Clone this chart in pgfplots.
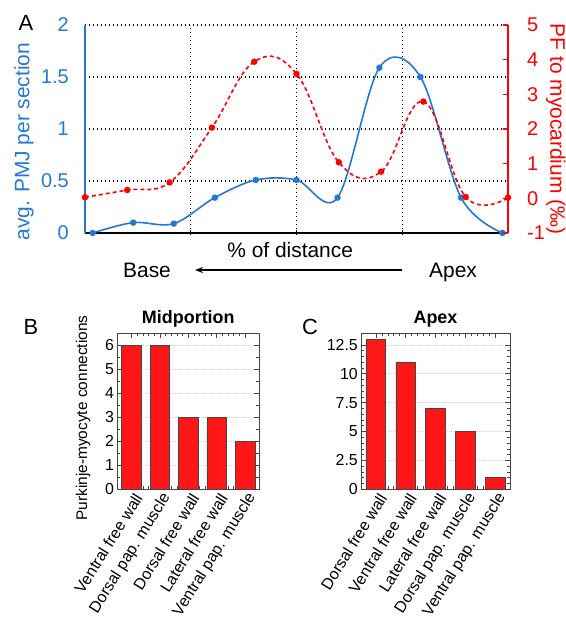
\documentclass[border=0pt]{standalone}
\usepackage{fontspec}
\setmainfont{Liberation Sans}
\usepackage{pgfplots}
\pgfplotsset{compat=1.18}
\usetikzlibrary{arrows.meta}
\definecolor{PMJblue}{RGB}{36,120,212}
\definecolor{PFred}{RGB}{255,0,0}
\definecolor{BarRed}{RGB}{255,22,22}
\definecolor{BarEdge}{RGB}{70,70,70}

\newcommand{\fA}{\fontsize{20}{24}\selectfont}
\newcommand{\fB}{\fontsize{16}{19}\selectfont}

\pgfplotsset{
  barpanel/.style={
    scale only axis, anchor=south west,
    ybar, bar width=19.5bp,
    xmin=-0.5, xmax=4.5, ymin=0,
    xtick={0,...,4}, minor x tick num=4,
    tick align=inside, major tick length=5bp, minor tick length=3bp,
    tick style={BarEdge, line width=0.6bp},
    axis line style={BarEdge, line width=0.8bp},
    ymajorgrids, major grid style={gray!35, line width=0.6bp, dash pattern=on 1bp off 1bp},
    ticklabel style={font=\fB},
    yticklabel style={inner sep=1bp, xshift=-2bp},
    xticklabel style={rotate=58, anchor=east, inner sep=1bp, yshift=-9bp},
    title style={font=\fontsize{18}{21}\selectfont\bfseries, at={(0.5,1)}, anchor=base, yshift=4bp},
    /pgf/number format/assume math mode=true,
  },
  barstyle/.style={fill=BarRed, draw=BarEdge, line width=0.6bp},
}

\begin{document}
\begin{tikzpicture}
\path[use as bounding box] (0,0) rectangle (566bp,618bp);

% ---- panel A: PMJ per section (left axis)
\begin{axis}[at={(85bp,385bp)}, anchor=south west, scale only axis,
  width=423bp, height=208bp, clip=false,
  xmin=0, xmax=100, ymin=0, ymax=2,
  xtick={25,50,75}, xticklabels={}, ytick={0,0.5,1,1.5,2},
  axis x line*=bottom, axis y line*=left,
  x axis line style={black, line width=1.6bp, -},
  y axis line style={PMJblue, line width=2.6bp, -},
  grid=major, major grid style={black, line width=1.2bp, dash pattern=on 1.4bp off 2.6bp},
  xtick style={black, line width=1bp}, xtick align=center, major tick length=5bp,
  ytick style={draw=none},
  yticklabel style={PMJblue, font=\fA, inner sep=0pt, xshift=-16bp},
  /pgf/number format/assume math mode=true,
  ylabel={avg. PMJ per section},
  ylabel style={PMJblue, font=\fontsize{21}{25}\selectfont, at={(rel axis cs:-0.144,0.44)}, anchor=center},
]
\addplot[PMJblue, line width=1.6bp, smooth, tension=0.56, mark=*, mark size=2.4bp] coordinates {
  (1.8,0.0) (11.4,0.1) (21.0,0.09) (30.7,0.34) (40.4,0.51) (50.0,0.51)
  (59.7,0.34) (69.6,1.59) (79.3,1.5) (88.9,0.34) (98.7,0.0)};
\node[font=\fontsize{21}{25}\selectfont, anchor=base] at (rel axis cs:0.485,-0.12) {\% of distance};
\node[font=\fontsize{21}{25}\selectfont, anchor=base] at (rel axis cs:0.1466,-0.216) {Base};
\node[font=\fontsize{21}{25}\selectfont, anchor=base] at (rel axis cs:0.87,-0.216) {Apex};
\draw[-{Stealth[length=8bp,width=6bp]}, line width=1.2bp] (rel axis cs:0.749,-0.178) -- (rel axis cs:0.26,-0.178);
\end{axis}

% ---- panel A: PF to myocardium (right axis)
\begin{axis}[at={(85bp,385bp)}, anchor=south west, scale only axis,
  width=423bp, height=208bp, clip=false,
  xmin=0, xmax=100, ymin=-1, ymax=5,
  axis x line=none, axis y line*=right,
  y axis line style={PFred, line width=2.2bp, -},
  ytick={-1,0,...,5},
  ytick style={PFred, line width=1.2bp}, ytick align=inside, major tick length=5bp,
  yticklabel style={PFred, font=\fA, anchor=west, inner sep=0pt, xshift=19bp},
  /pgf/number format/assume math mode=true,
  ylabel={PF to myocardium (‰)},
  ylabel style={PFred, font=\fontsize{21}{25}\selectfont, at={(rel axis cs:1.113,0.5)}, anchor=center, rotate=180},
]
\addplot[PFred, line width=1.6bp, dash pattern=on 4bp off 3bp, smooth, tension=0.68,
  mark=*, mark size=2.4bp, mark options={solid}] coordinates {
  (0,0.03) (10,0.24) (20,0.46) (30,2.04) (40,3.94) (50,3.59)
  (60,1.04) (70,0.77) (80,2.79) (90,0.04) (100,0.02)};
\end{axis}

% ---- panel B: midportion
\begin{axis}[barpanel, at={(117.3bp,128.7bp)}, width=142bp, height=156bp,
  ymax=6.5, ytick={0,...,6}, minor y tick num=1,
  title={Midportion},
  xticklabels={Ventral free wall, Dorsal pap. muscle, Dorsal free wall, Lateral free wall, Ventral pap. muscle},
  ylabel={Purkinje-myocyte connections},
  ylabel style={font=\fontsize{15.5}{18}\selectfont, at={(rel axis cs:-0.24,0.457)}, anchor=center},
]
\addplot[barstyle] coordinates {(0,6) (1,6) (2,3) (3,3) (4,2)};
\end{axis}

% ---- panel C: apex
\begin{axis}[barpanel, at={(361bp,128.7bp)}, width=149bp, height=156bp,
  ymax=13.5, ytick={0,2.5,...,12.5}, minor y tick num=4,
  title={Apex},
  xticklabels={Dorsal free wall, Ventral free wall, Lateral free wall, Dorsal pap. muscle, Ventral pap. muscle},
]
\addplot[barstyle] coordinates {(0,13) (1,11) (2,7) (3,5) (4,1)};
\end{axis}

\node[font=\fontsize{22}{26}\selectfont, anchor=base] at (26bp,587bp) {A};
\node[font=\fontsize{22}{26}\selectfont, anchor=base] at (31bp,283bp) {B};
\node[font=\fontsize{22}{26}\selectfont, anchor=base] at (310bp,283bp) {C};
\end{tikzpicture}
\end{document}
